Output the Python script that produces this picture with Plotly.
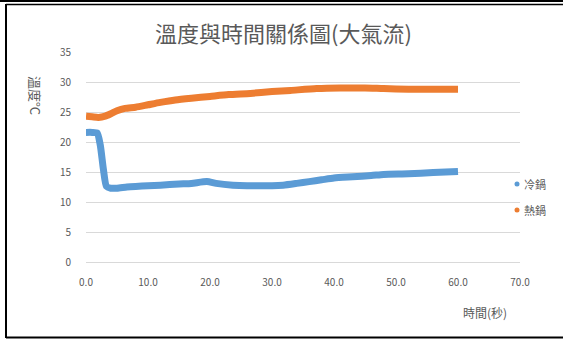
import plotly.graph_objects as go

# ---- data ----
t_cold = [0, 1, 1.8, 2.3, 2.8, 3.3, 4, 5, 6.6, 8, 10, 12, 15, 17, 19.5, 21, 23.7, 26, 28, 30, 31.8, 34, 36, 38, 40, 43, 46, 48, 52, 56, 60]
cold = [21.6, 21.6, 21.5, 19.5, 15.5, 12.6, 12.3, 12.3, 12.5, 12.6, 12.7, 12.8, 13.0, 13.1, 13.4, 13.1, 12.8, 12.7, 12.7, 12.7, 12.8, 13.1, 13.4, 13.7, 14.0, 14.2, 14.4, 14.6, 14.7, 14.9, 15.1]

t_hot = [0, 1, 2, 3.1, 4, 5, 6.3, 8, 10, 12, 14.4, 17, 20, 23, 26.5, 30, 33, 37.2, 41, 45, 48, 52, 56, 60]
hot = [24.3, 24.2, 24.1, 24.3, 24.7, 25.2, 25.6, 25.8, 26.2, 26.6, 27.0, 27.3, 27.6, 27.9, 28.1, 28.4, 28.6, 28.9, 29.0, 29.0, 28.9, 28.8, 28.8, 28.8]

x_ticks = [0, 10, 20, 30, 40, 50, 60, 70]
x_tick_labels = ["0.0", "10.0", "20.0", "30.0", "40.0", "50.0", "60.0", "70.0"]
y_ticks = [0, 5, 10, 15, 20, 25, 30, 35]

series_names = ["冷鍋", "熱鍋"]
colors = ["#5B9BD5", "#ED7D31"]

W, H = 563, 340
L, R, T, B = 86, 43, 52, 78
PW, PH = W - L - R, H - T - B


def px(xp):
    return (xp - L) / PW


def py(yp):
    return (H - B - yp) / PH


FONT = "Noto Sans CJK TC, Noto Sans, sans-serif"
GREY = "#595959"

fig = go.Figure()
fig.add_trace(go.Scatter(x=t_cold, y=cold, mode="lines", name=series_names[0],
                         line=dict(color=colors[0], width=7, shape="spline", smoothing=0.6),
                         showlegend=False))
fig.add_trace(go.Scatter(x=t_hot, y=hot, mode="lines", name=series_names[1],
                         line=dict(color=colors[1], width=7, shape="spline", smoothing=0.6),
                         showlegend=False))

shapes = []
annotations = []
# manual legend
leg_y = [184, 210]
for name, c, yy in zip(series_names, colors, leg_y):
    shapes.append(dict(type="circle", xref="paper", yref="paper",
                       x0=px(514.5), x1=px(519.5), y0=py(yy + 2.5), y1=py(yy - 2.5),
                       fillcolor=c, line=dict(width=0)))
    annotations.append(dict(text=name, xref="paper", yref="paper", x=px(522), y=py(yy),
                            xanchor="left", yanchor="middle", showarrow=False,
                            font=dict(family=FONT, size=11, color=GREY)))

# frame lines
shapes.append(dict(type="line", xref="paper", yref="paper", x0=px(0), x1=px(563), y0=py(1), y1=py(1),
                   line=dict(color="black", width=2)))
shapes.append(dict(type="line", xref="paper", yref="paper", x0=px(6), x1=px(563), y0=py(4.5), y1=py(4.5),
                   line=dict(color="black", width=1.5)))
shapes.append(dict(type="line", xref="paper", yref="paper", x0=px(6), x1=px(6), y0=py(4), y1=py(338),
                   line=dict(color="black", width=2)))
shapes.append(dict(type="line", xref="paper", yref="paper", x0=px(6), x1=px(563), y0=py(337.5), y1=py(337.5),
                   line=dict(color="black", width=2)))

# titles
annotations.append(dict(text="溫度與時間關係圖(大氣流)", xref="paper", yref="paper", x=px(283), y=py(32),
                        xanchor="center", yanchor="middle", showarrow=False,
                        font=dict(family=FONT, size=22, color=GREY)))
annotations.append(dict(text="溫度°C", xref="paper", yref="paper", x=px(36), y=py(95),
                        xanchor="center", yanchor="middle", showarrow=False, textangle=90,
                        font=dict(family=FONT, size=13, color=GREY)))
annotations.append(dict(text="時間(秒)", xref="paper", yref="paper", x=px(485), y=py(312),
                        xanchor="center", yanchor="middle", showarrow=False,
                        font=dict(family=FONT, size=12, color=GREY)))

fig.update_layout(
    width=W, height=H,
    margin=dict(l=L, r=R, t=T, b=B),
    paper_bgcolor="white", plot_bgcolor="white",
    showlegend=False,
    shapes=shapes, annotations=annotations,
    xaxis=dict(range=[0, 70], tickvals=x_ticks, ticktext=x_tick_labels,
               showgrid=False, zeroline=False, showline=True, linecolor="#d9d9d9", linewidth=1,
               ticks="", tickfont=dict(family=FONT, size=10, color=GREY), ticklabelstandoff=11),
    yaxis=dict(range=[0, 35], tickvals=y_ticks, showgrid=True, gridcolor="#d9d9d9", gridwidth=1,
               zeroline=False, showline=False, ticks="",
               tickfont=dict(family=FONT, size=10, color=GREY), ticklabelstandoff=14),
)

fig.write_html("out.html")
